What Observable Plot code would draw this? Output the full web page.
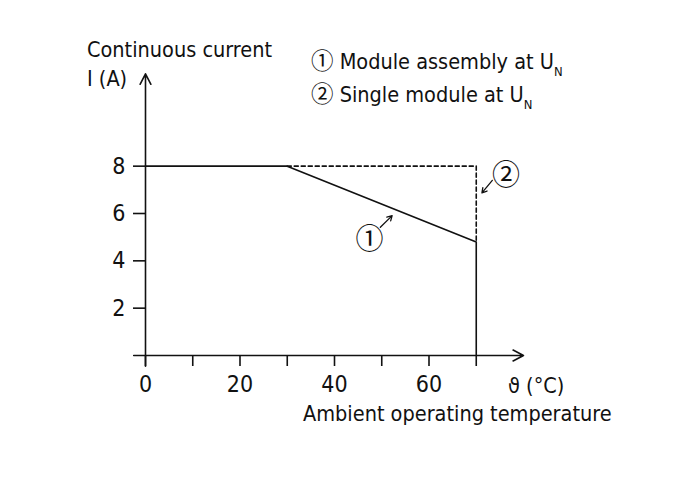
<!DOCTYPE html>
<html><head><meta charset="utf-8">
<script src="https://cdn.jsdelivr.net/npm/d3@7"></script>
<script src="https://cdn.jsdelivr.net/npm/@observablehq/plot@0.6"></script>
<style>body{margin:0;background:#fff}#chart{width:697px;height:496px}</style>
</head><body><div id="chart"></div>
<script>
const FONT = "'Liberation Sans Narrow','DejaVu Sans Condensed',Roboto,sans-serif";
const CIRCLE_FONT = "'Noto Sans CJK JP','Noto Sans CJK SC','DejaVu Sans',sans-serif";
// Curve 1: module assembly (solid)
const tempModule = [0, 30, 70, 70];
const currentModule = [8, 8, 4.8, 0];
// Curve 2: single module (dashed)
const tempSingle = [30, 70, 70];
const currentSingle = [8, 8, 4.8];
// ticks
const xTicks = [0, 10, 20, 30, 40, 50, 60, 70];
const xLabels = [0, 20, 40, 60];
const yTicks = [2, 4, 6, 8];
const xAxisExtent = [-2.5, 80];
const yAxisExtent = [-0.45, 11.9];
// annotation markers
const marks1 = {label: "\u2460", x: 47.4, y: 4.9, ax1: 49.7, ay1: 5.42, ax2: 52.2, ay2: 5.91};
const marks2 = {label: "\u2461", x: 76.3, y: 7.6, ax1: 73.4, ay1: 7.4, ax2: 71.2, ay2: 6.87};

const module = tempModule.map((t, i) => ({t, c: currentModule[i]}));
const single = tempSingle.map((t, i) => ({t, c: currentSingle[i]}));

const chart = Plot.plot({
  width: 697, height: 496,
  marginLeft: 145, marginRight: 174, marginTop: 71, marginBottom: 141,
  x: {domain: [0, 80]},
  y: {domain: [0, 12]},
  style: {fontFamily: FONT, background: "#fff", color: "#111"},
  marks: [
    Plot.line(module, {x: "t", y: "c", stroke: "#111", strokeWidth: 1.6}),
    Plot.line(single, {x: "t", y: "c", stroke: "#111", strokeWidth: 1.6, strokeDasharray: "4,3"}),
    Plot.arrow([0], {x1: xAxisExtent[0], y1: 0, x2: xAxisExtent[1], y2: 0, stroke: "#111", strokeWidth: 1.6, headLength: 11, headAngle: 55}),
    Plot.arrow([0], {x1: 0, y1: yAxisExtent[0], x2: 0, y2: yAxisExtent[1], stroke: "#111", strokeWidth: 1.6, headLength: 11, headAngle: 55}),
    Plot.axisX({ticks: xTicks, tickSize: 11, tickPadding: 9, strokeWidth: 1.6, fontSize: 23, label: null,
      tickFormat: d => xLabels.includes(d) ? String(d) : ""}),
    Plot.axisY({ticks: yTicks, tickSize: 12, tickPadding: 8, strokeWidth: 1.6, fontSize: 23, label: null}),
    Plot.text([marks1, marks2], {x: "x", y: "y", text: "label", fontSize: 28, fontFamily: CIRCLE_FONT, fill: "#111"}),
    Plot.arrow([marks1, marks2], {x1: "ax1", y1: "ay1", x2: "ax2", y2: "ay2", stroke: "#111", strokeWidth: 1.3, headLength: 7, headAngle: 60})
  ]
});
document.getElementById("chart").appendChild(chart);

const svg = d3.select(chart);
function addText(x, y, parts, size) {
  const t = svg.append("text").attr("x", x).attr("y", y).attr("text-anchor", "start")
    .attr("font-family", FONT).attr("font-size", size).attr("fill", "#111");
  parts.forEach(p => {
    const s = t.append("tspan").text(p.text);
    if (p.sub) s.attr("font-size", size * 0.6).attr("dy", 7);
    if (p.circle) s.attr("font-family", CIRCLE_FONT).attr("font-size", 22.5);
  });
  return t;
}
addText(87, 57, [{text: "Continuous current"}], 21.5);
addText(87, 86, [{text: "I (A)"}], 21.5);
addText(311, 69, [{text: "\u2460", circle: true}, {text: " Module assembly at U"}, {text: "N", sub: true}], 21.5);
addText(311, 102, [{text: "\u2461", circle: true}, {text: " Single module at U"}, {text: "N", sub: true}], 21.5);
addText(508, 393, [{text: "\u03D1 (\u00B0C)"}], 21.5);
addText(303, 421, [{text: "Ambient operating temperature"}], 21.5);
</script>
</body></html>
